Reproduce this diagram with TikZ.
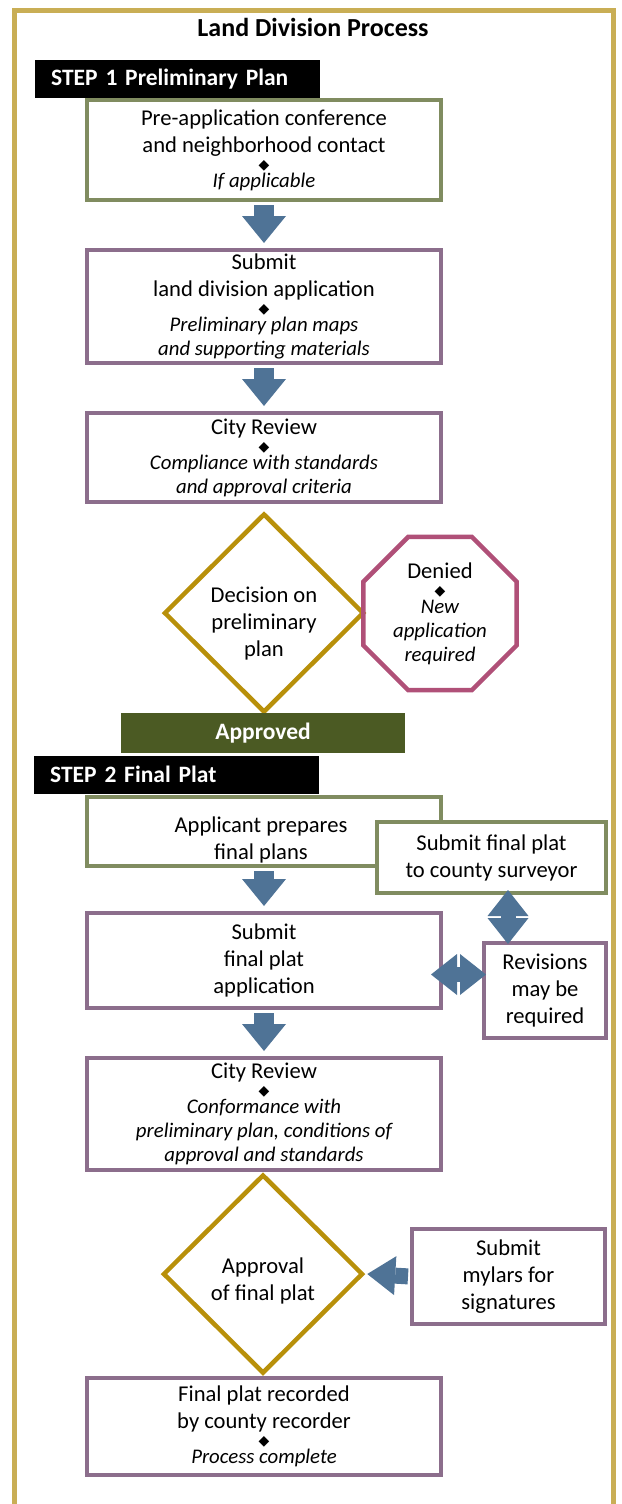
\documentclass[tikz,border=0pt]{standalone}
\usepackage{fontspec}
\setmainfont{Carlito}
\newfontfamily\dejavu{DejaVu Sans}
\usetikzlibrary{shapes.geometric,arrows.meta,calc}

\definecolor{framegold}{RGB}{201,174,85}
\definecolor{boxgreen}{RGB}{128,140,96}
\definecolor{boxpurple}{RGB}{140,110,140}
\definecolor{diagold}{RGB}{184,144,10}
\definecolor{stoppink}{RGB}{176,80,120}
\definecolor{arrblue}{RGB}{79,115,150}
\definecolor{okgreen}{RGB}{75,90,35}

\def \bodySize {\fontsize{22.6}{27}\selectfont}
\def \barSize {\bfseries\fontsize{23.5}{27}\selectfont}
\newcommand\dmd{{\dejavu\fontsize{14}{14}\selectfont ◆}}
\newcommand\ital[1]{{\fontsize{20.8}{24}\selectfont\itshape #1}}

\tikzset{
  flowbox/.style={draw, line width=4pt, fill=white, align=center, font=\bodySize, inner sep=2pt},
  greenbox/.style={flowbox, draw=boxgreen},
  purplebox/.style={flowbox, draw=boxpurple},
  mainbox/.style={minimum width=354pt},
  decision/.style={diamond, draw=diagold, line width=4.5pt, fill=white, minimum width=200pt,
    minimum height=199pt, inner sep=0pt},
  stopsign/.style={regular polygon, regular polygon sides=8, draw=stoppink, line width=4.5pt,
    minimum size=166pt, inner sep=0pt, align=center, font=\bodySize},
  stepbar/.style={fill=black, text=white, font=\barSize, anchor=west,
    minimum height=38pt, text width=253pt, inner xsep=16pt, align=left},
  mainarrow/.style={draw=arrblue, line width=20pt, shorten <=3pt, shorten >=5pt,
    -{Triangle[length=27pt, width=44pt, line width=0pt]}},
  sidearrow/.style={draw=arrblue, line width=15pt,
    -{Triangle[length=26pt, width=41pt, line width=0pt]}}
}

\begin{document}
\begin{tikzpicture}[x=1pt,y=-1pt]
  \useasboundingbox (0,0) rectangle (621,1504);
  % outer frame, open at the bottom
  \draw[framegold, line width=5pt] (14.5,1512) -- (14.5,10.5) -- (613.5,10.5) -- (613.5,1512);

  \node[font=\bfseries\fontsize{26}{30}\selectfont] (title) at (313,27) {Land Division Process};

  % step 1
  \node[stepbar] (step1) at (35,79) {STEP 1 Preliminary Plan};
  \node[greenbox, mainbox, minimum height=100pt] (preapp) at (264,150)
    {Pre-application conference\\and neighborhood contact\\[-10pt]\dmd\\[-9pt]\ital{If applicable}};
  \node[purplebox, mainbox, minimum height=113pt] (submitapp) at (264,306.5)
    {Submit\\land division application\\[-10pt]\dmd\\[-9pt]\ital{Preliminary plan maps}\\[-3pt]\ital{and supporting materials}};
  \node[purplebox, mainbox, minimum height=89pt] (review1) at (264,457.5)
    {City Review\\[-10pt]\dmd\\[-9pt]\ital{Compliance with standards}\\[-3pt]\ital{and approval criteria}};
  \node[decision, label={[align=center, font=\bodySize, yshift=-11pt]center:{Decision on\\preliminary\\plan}}] (dec1) at (264,613) {};
  \node[stopsign] (deny) at (440,613.5)
    {Denied\\[-10pt]\dmd\\[-9pt]\ital{New}\\[-3pt]\ital{application}\\[-3pt]\ital{required}};
  \node[fill=okgreen, text=white, font=\barSize, minimum width=284pt,
    minimum height=40pt] (approved) at (263,733) {Approved};

  \draw[mainarrow] (preapp.south) -- (submitapp.north);
  \draw[mainarrow] (submitapp.south) -- (review1.north);

  % step 2
  \node[stepbar] (step2) at (34,774.5) {STEP 2 Final Plat};
  \node[greenbox, mainbox, minimum height=69pt,
    label={[align=center, font=\bodySize, yshift=-8pt, xshift=-3pt]center:{Applicant prepares\\final plans}}] (prep) at (264,831.5) {};
  \node[greenbox, minimum width=229pt, minimum height=71pt] (surv) at (491.5,857.5)
    {Submit final plat\\to county surveyor};
  \node[purplebox, mainbox, minimum height=95pt] (finalapp) at (264,960.5)
    {Submit\\final plat\\application};
  \node[purplebox, minimum width=122pt, minimum height=95pt] (rev) at (545,990.5)
    {Revisions\\may be\\required};
  \node[purplebox, mainbox, minimum height=112pt] (review2) at (264,1114)
    {City Review\\[-10pt]\dmd\\[-9pt]\ital{Conformance with}\\[-3pt]\ital{preliminary plan, conditions of}\\[-3pt]\ital{approval and standards}};
  \node[decision, label={[align=center, font=\bodySize, yshift=-7pt]center:{Approval\\of final plat}}] (appr) at (263,1274) {};
  \node[purplebox, minimum width=193pt, minimum height=95pt] (mylar) at (508.5,1276.5)
    {Submit\\mylars for\\signatures};
  \node[purplebox, mainbox, minimum height=97pt] (record) at (264,1426.5)
    {Final plat recorded\\by county recorder\\[-10pt]\dmd\\[-9pt]\ital{Process complete}};

  \draw[mainarrow] (prep.south) -- (finalapp.north);
  \draw[mainarrow] (finalapp.south) -- (review2.north);

  % two-way arrows
  \coordinate (vgap) at (508,917);
  \draw[sidearrow] ($(vgap)+(0,14)$) -- ($(vgap |- surv.south)+(0,-5)$);
  \draw[sidearrow] ($(vgap)+(0,-14)$) -- ($(vgap |- rev.north)+(0,3)$);
  \coordinate (hgap) at (458.5,974.5);
  \draw[sidearrow] ($(hgap)+(14,0)$) -- ($(hgap -| finalapp.east)+(-12,0)$);
  \draw[sidearrow] ($(hgap)+(-14,0)$) -- ($(hgap -| rev.west)+(4,0)$);

  \draw[sidearrow, line width=16pt, shorten <=2pt, -{Triangle[length=28pt, width=39pt, line width=0pt]}] (mylar.west) -- ($(appr.east)+(2,0)$);
\end{tikzpicture}
\end{document}
